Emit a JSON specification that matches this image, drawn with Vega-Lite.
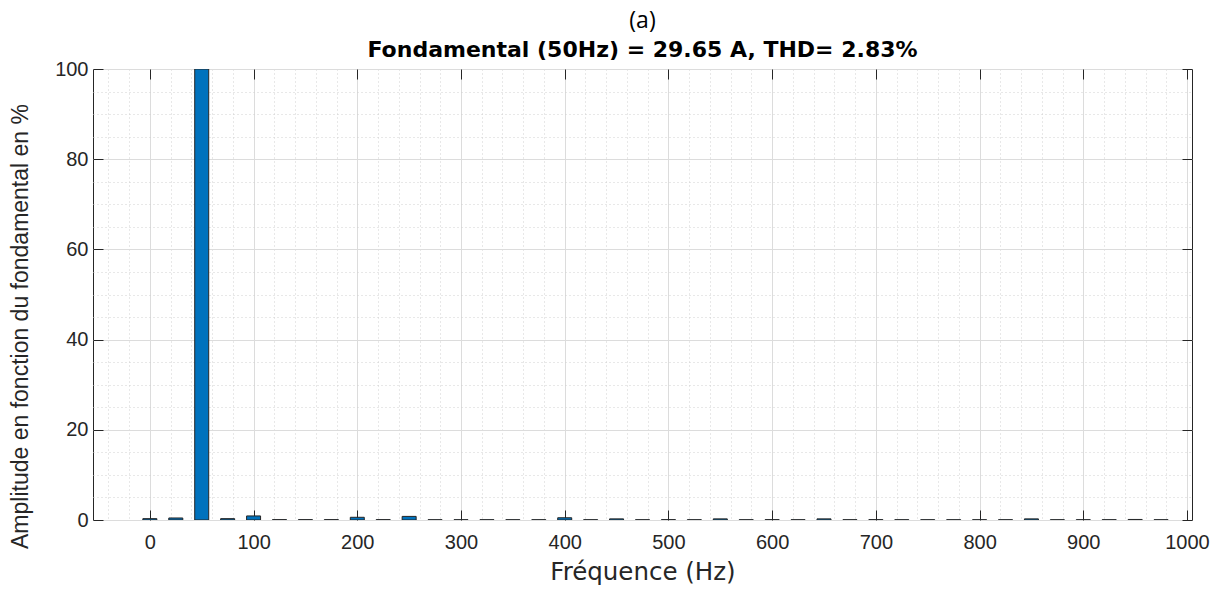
{
  "$schema": "https://vega.github.io/schema/vega-lite/v6.json",
  "width": 1099,
  "height": 451,
  "autosize": {"type": "none"},
  "padding": {"left": 93, "top": 69, "right": 39, "bottom": 69},
  "background": "white",
  "config": {
    "view": {"stroke": "#262626", "strokeWidth": 1},
    "axis": {"labelColor": "#262626", "titleColor": "#262626", "labelFont": "Liberation Sans", "titleFont": "DejaVu Sans", "labelFontSize": 20, "titleFontSize": 22, "titleFontWeight": "normal", "tickColor": "#262626", "domain": false}
  },
  "title": {
    "text": "(a)",
    "subtitle": "Fondamental (50Hz) = 29.65 A, THD= 2.83%",
    "font": "Open Sans",
    "fontSize": 23,
    "fontWeight": "normal",
    "color": "#000000",
    "subtitleFont": "DejaVu Sans",
    "subtitleFontSize": 22,
    "subtitleFontWeight": "bold",
    "subtitleColor": "#000000",
    "subtitlePadding": 7,
    "anchor": "middle",
    "offset": -2
  },
  "data": {"values": [
    {"freq": 0, "amp": 0.3},
    {"freq": 25, "amp": 0.45},
    {"freq": 50, "amp": 100},
    {"freq": 75, "amp": 0.3},
    {"freq": 100, "amp": 0.9},
    {"freq": 125, "amp": 0.08},
    {"freq": 150, "amp": 0.08},
    {"freq": 175, "amp": 0.08},
    {"freq": 200, "amp": 0.6},
    {"freq": 225, "amp": 0.08},
    {"freq": 250, "amp": 0.8},
    {"freq": 275, "amp": 0.06},
    {"freq": 300, "amp": 0.06},
    {"freq": 325, "amp": 0.06},
    {"freq": 350, "amp": 0.06},
    {"freq": 375, "amp": 0.06},
    {"freq": 400, "amp": 0.5},
    {"freq": 425, "amp": 0.06},
    {"freq": 450, "amp": 0.25},
    {"freq": 475, "amp": 0.06},
    {"freq": 500, "amp": 0.08},
    {"freq": 525, "amp": 0.06},
    {"freq": 550, "amp": 0.25},
    {"freq": 575, "amp": 0.06},
    {"freq": 600, "amp": 0.08},
    {"freq": 625, "amp": 0.06},
    {"freq": 650, "amp": 0.25},
    {"freq": 675, "amp": 0.06},
    {"freq": 700, "amp": 0.08},
    {"freq": 725, "amp": 0.06},
    {"freq": 750, "amp": 0.06},
    {"freq": 775, "amp": 0.06},
    {"freq": 800, "amp": 0.06},
    {"freq": 825, "amp": 0.06},
    {"freq": 850, "amp": 0.25},
    {"freq": 875, "amp": 0.06},
    {"freq": 900, "amp": 0.06},
    {"freq": 925, "amp": 0.06},
    {"freq": 950, "amp": 0.12},
    {"freq": 975, "amp": 0.06}
  ]},
  "layer": [
    {
      "mark": {"type": "bar", "size": 14, "color": "#0072BD", "stroke": "#262626", "strokeWidth": 1, "clip": true},
      "encoding": {
        "x": {
          "field": "freq", "type": "quantitative",
          "scale": {"domain": [-50, 1000], "nice": false, "zero": false},
          "axis": {
            "orient": "bottom",
            "title": "Fréquence (Hz)",
            "titleFontSize": 24.5,
            "titlePadding": 8,
            "format": "d",
            "values": [-40,-20,0,20,40,60,80,100,120,140,160,180,200,220,240,260,280,300,320,340,360,380,400,420,440,460,480,500,520,540,560,580,600,620,640,660,680,700,720,740,760,780,800,820,840,860,880,900,920,940,960,980,1000],
            "labelExpr": "datum.value % 100 === 0 ? datum.label : ''",
            "tickSize": -10,
            "labelPadding": 22,
            "tickOpacity": {"condition": {"test": "datum.value % 100 === 0", "value": 1}, "value": 0},
            "grid": true,
            "gridColor": {"condition": {"test": "datum.value % 100 === 0", "value": "#dcdcdc"}, "value": "#d0d0d0"},
            "gridDash": {"condition": {"test": "datum.value % 100 === 0", "value": []}, "value": [1, 3]},
            "labelFlush": false,
            "labelOverlap": false
          }
        },
        "y": {
          "field": "amp", "type": "quantitative",
          "scale": {"domain": [0, 100], "nice": false},
          "axis": {
            "orient": "left",
            "title": "Amplitude en fonction du fondamental en %",
            "titleFont": "Liberation Sans",
            "titleFontSize": 23,
            "titlePadding": 22,
            "titleY": 257,
            "values": [0,5,10,15,20,25,30,35,40,45,50,55,60,65,70,75,80,85,90,95,100],
            "labelExpr": "datum.value % 20 === 0 ? datum.label : ''",
            "tickSize": -10,
            "labelPadding": 15,
            "tickOpacity": {"condition": {"test": "datum.value % 20 === 0", "value": 1}, "value": 0},
            "grid": true,
            "gridColor": {"condition": {"test": "datum.value % 20 === 0", "value": "#dcdcdc"}, "value": "#d0d0d0"},
            "gridDash": {"condition": {"test": "datum.value % 20 === 0", "value": []}, "value": [1, 3]},
            "labelFlush": false,
            "labelOverlap": false
          }
        }
      }
    },
    {
      "mark": {"type": "bar", "size": 14, "opacity": 0},
      "encoding": {
        "x": {
          "field": "freq", "type": "quantitative",
          "axis": {"orient": "top", "title": null, "labels": false, "grid": false, "values": [0,100,200,300,400,500,600,700,800,900,1000], "tickSize": -10}
        },
        "y": {
          "field": "amp", "type": "quantitative",
          "axis": {"orient": "right", "title": null, "labels": false, "grid": false, "values": [0,20,40,60,80,100], "tickSize": -10}
        }
      }
    }
  ],
  "resolve": {"axis": {"x": "independent", "y": "independent"}}
}
